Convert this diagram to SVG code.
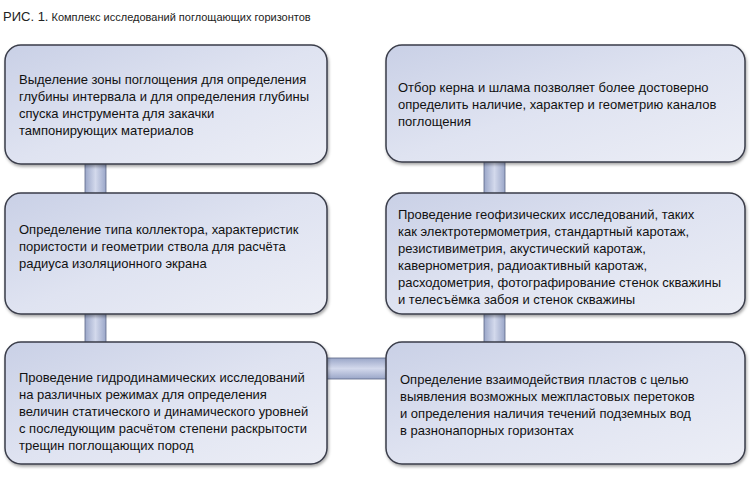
<svg xmlns="http://www.w3.org/2000/svg" width="750" height="484" viewBox="0 0 750 484">
<defs>
<linearGradient id="bg" x1="0" y1="0" x2="1" y2="1"><stop offset="0" stop-color="#c9d0e6"/><stop offset="0.5" stop-color="#dfe3f1"/><stop offset="1" stop-color="#eceef6"/></linearGradient>
<linearGradient id="vb" x1="0" y1="0" x2="1" y2="0"><stop offset="0" stop-color="#9aa6c8"/><stop offset="0.5" stop-color="#d3d9ec"/><stop offset="1" stop-color="#9aa6c8"/></linearGradient>
<linearGradient id="hb" x1="0" y1="0" x2="0" y2="1"><stop offset="0" stop-color="#9aa6c8"/><stop offset="0.5" stop-color="#d3d9ec"/><stop offset="1" stop-color="#9aa6c8"/></linearGradient>
<filter id="sh" x="-5%" y="-5%" width="110%" height="115%"><feDropShadow dx="1" dy="2" stdDeviation="1.5" flood-color="#000" flood-opacity="0.35"/></filter>
</defs>
<style>
.box{fill:url(#bg);stroke:#3a3d4a;stroke-width:1.5;filter:url(#sh)}
.t{font-family:"Liberation Sans",Arial,sans-serif;font-size:13px;fill:#111}
.ttl{font-family:"Liberation Sans",Arial,sans-serif;font-size:11px;fill:#222}
</style>
<rect width="750" height="484" fill="#fff"/>
<text class="ttl" x="3" y="21"><tspan font-size="13">РИС. 1.</tspan> Комплекс исследований поглощающих горизонтов</text>
<g id="connectors">
<rect x="85" y="162" width="21" height="33" fill="url(#vb)" stroke="#5c6687" stroke-width="0.8"/>
<rect x="85" y="312" width="21" height="32" fill="url(#vb)" stroke="#5c6687" stroke-width="0.8"/>
<rect x="484" y="160" width="21" height="35" fill="url(#vb)" stroke="#5c6687" stroke-width="0.8"/>
<rect x="484" y="312" width="21" height="32" fill="url(#vb)" stroke="#5c6687" stroke-width="0.8"/>
<rect x="325" y="358" width="64" height="21" fill="url(#hb)" stroke="#5c6687" stroke-width="0.8"/>
</g>
<g id="n1"><rect class="box" x="5" y="45" width="322" height="119" rx="16"/>
<text class="t" x="19" y="84">Выделение зоны поглощения для определения</text>
<text class="t" x="19" y="101">глубины интервала и для определения глубины</text>
<text class="t" x="19" y="118">спуска инструмента для закачки</text>
<text class="t" x="19" y="135">тампонирующих материалов</text></g>
<g id="n2"><rect class="box" x="5" y="193" width="322" height="121" rx="16"/>
<text class="t" x="19" y="234">Определение типа коллектора, характеристик</text>
<text class="t" x="19" y="251">пористости и геометрии ствола для расчёта</text>
<text class="t" x="19" y="268">радиуса изоляционного экрана</text></g>
<g id="n3"><rect class="box" x="5" y="342" width="322" height="122" rx="16"/>
<text class="t" x="19" y="382">Проведение гидродинамических исследований</text>
<text class="t" x="19" y="399">на различных режимах для определения</text>
<text class="t" x="19" y="416">величин статического и динамического уровней</text>
<text class="t" x="19" y="433">с последующим расчётом степени раскрытости</text>
<text class="t" x="19" y="450">трещин поглощающих пород</text></g>
<g id="n4"><rect class="box" x="386" y="45" width="359" height="117" rx="16"/>
<text class="t" x="398" y="92">Отбор керна и шлама позволяет более достоверно</text>
<text class="t" x="398" y="109">определить наличие, характер и геометрию каналов</text>
<text class="t" x="398" y="126">поглощения</text></g>
<g id="n5"><rect class="box" x="386" y="193" width="359" height="121" rx="16"/>
<text class="t" x="398" y="219">Проведение геофизических исследований, таких</text>
<text class="t" x="398" y="236">как электротермометрия, стандартный каротаж,</text>
<text class="t" x="398" y="253">резистивиметрия, акустический каротаж,</text>
<text class="t" x="398" y="270">кавернометрия, радиоактивный каротаж,</text>
<text class="t" x="398" y="287">расходометрия, фотографирование стенок скважины</text>
<text class="t" x="398" y="304">и телесъёмка забоя и стенок скважины</text></g>
<g id="n6"><rect class="box" x="386" y="342" width="359" height="122" rx="16"/>
<text class="t" x="400" y="384">Определение взаимодействия пластов с целью</text>
<text class="t" x="400" y="401">выявления возможных межпластовых перетоков</text>
<text class="t" x="400" y="418">и определения наличия течений подземных вод</text>
<text class="t" x="400" y="435">в разнонапорных горизонтах</text></g>
</svg>
